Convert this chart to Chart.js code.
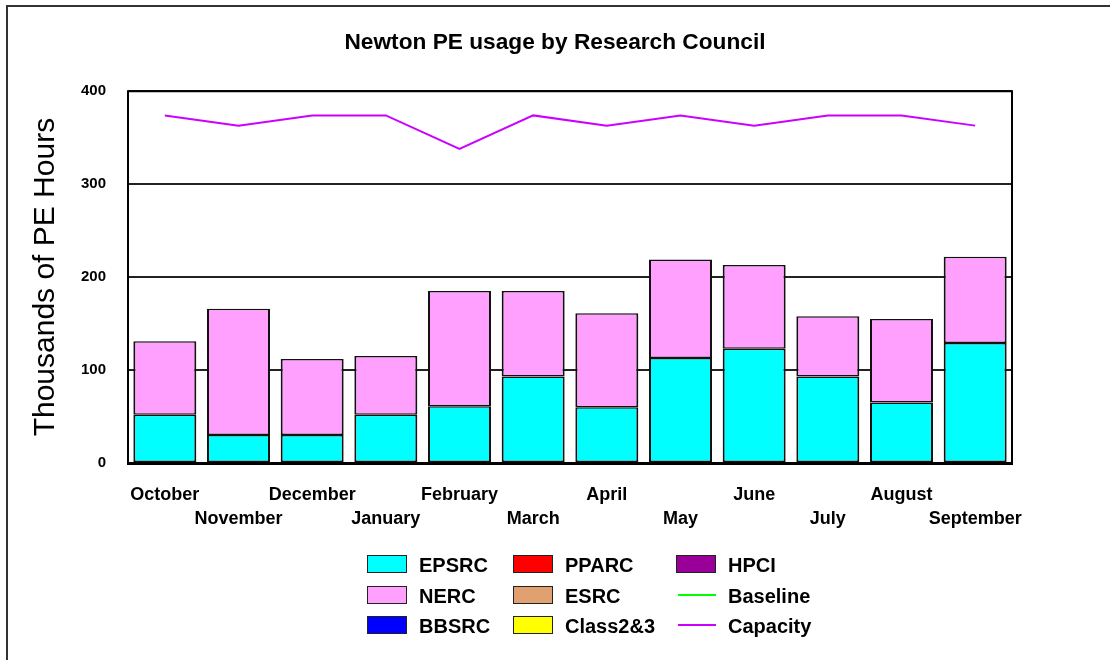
<!DOCTYPE html>
<html>
<head>
<meta charset="utf-8">
<script src="https://cdn.jsdelivr.net/npm/chart.js@4.4.1/dist/chart.umd.min.js"></script>
<style>
  html, body { margin: 0; padding: 0; background: #fff; overflow: hidden; }
  #wrap { position: relative; width: 1110px; height: 660px; }
  #frame { position: absolute; left: 6px; top: 5px; width: 1200px; height: 800px; border: 2px solid #333; box-sizing: border-box; pointer-events: none; }
  canvas { position: absolute; left: 0; top: 0; }
  .lg { position: absolute; font: bold 20px "Liberation Sans", Arial, sans-serif; color: #000; height: 18px; line-height: 18px; white-space: nowrap; }
  .lg .sw { position: absolute; left: 0; top: 0; width: 40px; height: 18px; box-sizing: border-box; border: 1.5px solid #222; }
  .lg .ln { position: absolute; left: 2px; top: 8px; width: 38px; height: 2px; }
  .lg .tx { position: absolute; left: 52px; top: 1px; }
</style>
</head>
<body>
<div id="wrap">
  <canvas id="c" width="1110" height="660"></canvas>
  <div id="frame"></div>
  <div id="legend"></div>
</div>
<script>
const months = ["October","November","December","January","February","March","April","May","June","July","August","September"];
const epsrc = [52, 30, 30, 52, 61, 93, 60, 113, 123, 93, 65, 129];
const nerc = [79, 136, 82, 63, 124, 92, 101, 106, 90, 65, 90, 93];
const bbsrc = [0, 0, 0, 0, 0, 0, 0, 0, 0, 0, 0, 0];
const pparc = [0, 0, 0, 0, 0, 0, 0, 0, 0, 0, 0, 0];
const esrc = [0, 0, 0, 0, 0, 0, 0, 0, 0, 0, 0, 0];
const class23 = [0, 0, 0, 0, 0, 0, 0, 0, 0, 0, 0, 0];
const hpci = [0, 0, 0, 0, 0, 0, 0, 0, 0, 0, 0, 0];
const baseline = [null, null, null, null, null, null, null, null, null, null, null, null];
const capacity = [374, 363, 374, 374, 338, 374, 363, 374, 363, 374, 374, 363];
const yTicks = [0, 100, 200, 300, 400];

const FONT = '"Liberation Sans", Arial, sans-serif';

function bar(label, data, color) {
  return { type: 'bar', label, data, backgroundColor: color, borderColor: '#111',
    borderWidth: { top: 1.5, left: 2, right: 2, bottom: 1.5 }, borderSkipped: false,
    barPercentage: 0.855, categoryPercentage: 1, stack: 's', order: 2 };
}
function line(label, data, color) {
  return { type: 'line', label, data, borderColor: color, backgroundColor: color, borderWidth: 2,
    pointRadius: 0, tension: 0, fill: false, order: 1 };
}

const datasets = [
  bar('EPSRC', epsrc, '#00ffff'),
  bar('NERC', nerc, '#ffa0ff'),
  bar('BBSRC', bbsrc, '#0000ff'),
  bar('PPARC', pparc, '#ff0000'),
  bar('ESRC', esrc, '#e0a070'),
  bar('Class2&3', class23, '#ffff00'),
  bar('HPCI', hpci, '#990099'),
  line('Baseline', baseline, '#00ff00'),
  line('Capacity', capacity, '#cc00ff')
];

const framePlugin = {
  id: 'plotFrame',
  afterDraw(chart) {
    const { ctx, chartArea: a } = chart;
    ctx.save();
    ctx.strokeStyle = '#000';
    ctx.lineWidth = 2;
    ctx.strokeRect(a.left, a.top, a.right - a.left, a.bottom - a.top);
    ctx.lineWidth = 3;
    ctx.beginPath();
    ctx.moveTo(a.left - 1, a.bottom + 0.5);
    ctx.lineTo(a.right + 1, a.bottom + 0.5);
    ctx.stroke();
    ctx.restore();
  }
};

const chart = new Chart(document.getElementById('c'), {
  data: { labels: months, datasets },
  options: {
    responsive: false,
    animation: false,
    layout: { padding: 0 },
    plugins: {
      legend: { display: false },
      tooltip: { enabled: false },
      title: { display: true, text: 'Newton PE usage by Research Council', color: '#000',
        font: { family: FONT, size: 22.7, weight: 'bold' }, padding: { top: 29, bottom: 35 } }
    },
    scales: {
      x: {
        stacked: true,
        grid: { display: false, drawTicks: false },
        border: { display: false },
        ticks: { autoSkip: false, maxRotation: 0, minRotation: 0, padding: 20, color: '#000',
          font: { family: FONT, size: 18, weight: 'bold', lineHeight: 1.333 },
          callback: (v, i) => (i % 2 === 0 ? months[i] : ['', months[i]]) },
        afterFit(s) { s.height = 197; }
      },
      y: {
        stacked: true, min: 0, max: 400,
        afterBuildTicks(s) { s.ticks = yTicks.map(v => ({ value: v })); },
        grid: { color: '#222', lineWidth: 2, drawTicks: false },
        border: { display: false },
        ticks: { padding: 22, color: '#000', font: { family: FONT, size: 15, weight: 'bold' } },
        title: { display: true, text: 'Thousands of PE Hours', color: '#000',
          font: { family: FONT, size: 30, weight: 'normal' }, padding: 28 },
        afterFit(s) { s.width = 128; }
      },
      yR: {
        position: 'right', display: true,
        grid: { display: false, drawTicks: false }, border: { display: false },
        ticks: { display: false },
        afterFit(s) { s.width = 98; }
      }
    }
  },
  plugins: [framePlugin]
});

// HTML legend laid out in three columns (column-major order as in the reference)
const colX = [367, 513, 676];
const rowY = [555, 586, 616];
const leg = document.getElementById('legend');
chart.data.datasets.forEach((ds, i) => {
  const col = Math.floor(i / 3), row = i % 3;
  const d = document.createElement('div');
  d.className = 'lg';
  d.style.left = colX[col] + 'px';
  d.style.top = rowY[row] + 'px';
  const mark = document.createElement('div');
  if (ds.type === 'line') { mark.className = 'ln'; mark.style.background = ds.borderColor; }
  else { mark.className = 'sw'; mark.style.background = ds.backgroundColor; }
  const t = document.createElement('span');
  t.className = 'tx';
  t.textContent = ds.label;
  d.appendChild(mark); d.appendChild(t);
  leg.appendChild(d);
});
</script>
</body>
</html>
